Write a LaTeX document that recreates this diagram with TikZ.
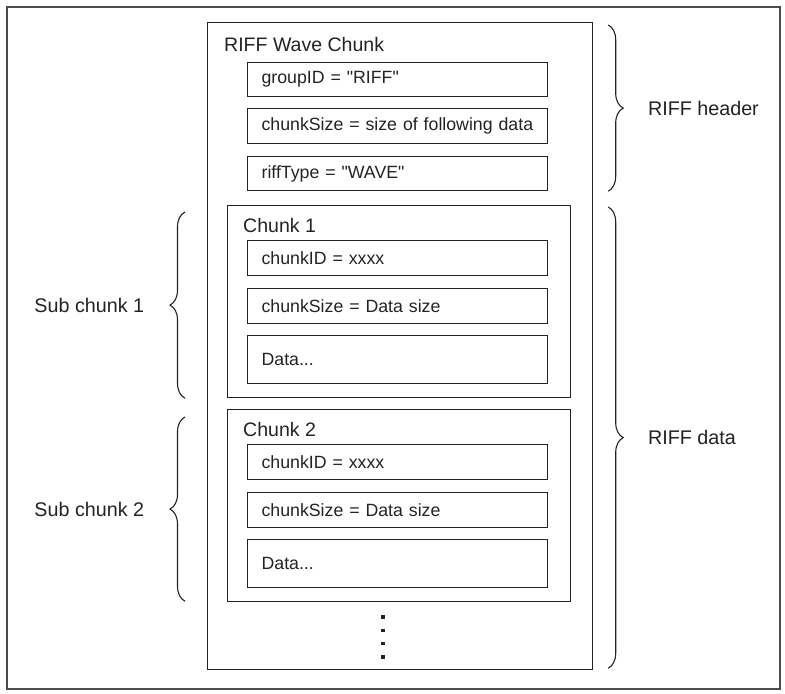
\documentclass[tikz,border=0pt]{standalone}
\usepackage{fontspec}
\newfontfamily\lsans{Liberation Sans}
\usetikzlibrary{positioning,calc,decorations.pathreplacing}
\definecolor{ink}{RGB}{35,35,35}
\definecolor{frm}{RGB}{75,75,75}
\tikzset{
  fld/.style={draw=ink,line width=1.2bp,rectangle,minimum width=300bp,
    minimum height=35bp,text width=272bp,inner xsep=14bp,inner ysep=0pt,
    align=left,anchor=north west},
  ttl/.style={anchor=west,inner sep=0pt,font=\lsans\fontsize{19.6}{23}\selectfont},
}

\begin{document}
\begin{tikzpicture}[x=1bp,y=-1bp,
  every node/.style={font=\lsans\fontsize{17.8}{21}\selectfont,text=ink},
  lbl/.style={font=\lsans\fontsize{19.8}{23}\selectfont},
  wrap/.style={draw=ink,line width=1.2bp,anchor=north west},
  brc/.style={draw=ink,line width=1.1bp,decorate,
              decoration={brace,amplitude=15bp}}]
  \useasboundingbox (0,0) rectangle (785,694);
  % page frame
  \node[draw=frm,line width=2bp,minimum width=773bp,minimum height=682bp,
        anchor=north west] (page) at (6,6) {};
  % riff wave chunk and its header
  \node[wrap,minimum width=385bp,minimum height=647bp] (riff) at (207,22) {};
  \node[ttl] (riffT) at (224,45) {RIFF Wave Chunk};
  \node[fld,minimum height=34bp] (gid) at (247,62)  {groupID = "RIFF"};
  \node[fld]                     (csz) at (247,108) {chunkSize = size of following data};
  \node[fld,minimum height=34bp] (rty) at (247,156) {riffType = "WAVE"};
  % sub chunks
  \foreach \i/\y in {1/205,2/409} {
    \node[wrap,minimum width=343bp,minimum height=192bp] (ck\i) at (227,\y) {};
    \node[ttl] (ckt\i) at (243,\y+20.5) {Chunk \i};
    \node[fld] (cid\i) at (247,\y+35)  {chunkID = xxxx};
    \node[fld] (cs\i)  at (247,\y+83)  {chunkSize = Data size};
    \node[fld,minimum height=48bp] (dat\i) at (247,\y+130) {Data...};
  }
  % more chunks follow
  \foreach \k in {0,...,3}
    \node[fill=ink,minimum size=3.6bp,inner sep=0pt] (dot\k) at (383,617+13.3*\k) {};
  % braces
  \draw[brc] ($(ck1.south west)+(-42,0)$) -- node[lbl,left=37bp] (sub1) {Sub chunk 1}
             ($(ck1.north west)+(-42,7)$);
  \draw[brc] ($(ck2.south west)+(-42,-1)$) -- node[lbl,left=37bp] (sub2) {Sub chunk 2}
             ($(ck2.north west)+(-42,8)$);
  \draw[brc] ($(riff.north east)+(15,3)$) -- node[lbl,right=36bp] (hdr) {RIFF header}
             ($(rty.south east)+(60,0)$);
  \draw[brc] ($(ck1.north east)+(37,2)$) -- node[lbl,right=36bp] (body) {RIFF data}
             ($(riff.south east)+(15,-2)$);
\end{tikzpicture}
\end{document}
